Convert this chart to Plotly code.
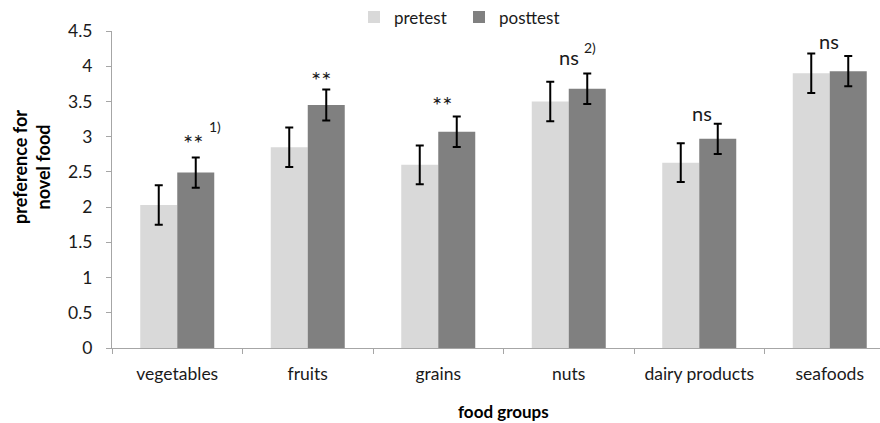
import plotly.graph_objects as go

categories = ["vegetables", "fruits", "grains", "nuts", "dairy products", "seafoods"]
pretest = [2.03, 2.85, 2.60, 3.50, 2.63, 3.90]
posttest = [2.49, 3.45, 3.07, 3.68, 2.97, 3.93]
pretest_err = [0.28, 0.28, 0.275, 0.28, 0.275, 0.28]
posttest_err = [0.215, 0.22, 0.215, 0.218, 0.215, 0.214]
sig_labels = ["**", "**", "**", "ns", "ns", "ns"]
sig_notes = ["1)", "", "", "2)", "", ""]

FONT = "Lato"
TXT = "#1a1a1a"
fig = go.Figure()
fig.add_trace(go.Bar(
    name="pretest", x=list(range(len(categories))), y=pretest,
    marker=dict(color="#d9d9d9", line=dict(width=0)),
    error_y=dict(type="data", array=pretest_err, color="black", thickness=2, width=4),
))
fig.add_trace(go.Bar(
    name="posttest", x=list(range(len(categories))), y=posttest,
    marker=dict(color="#808080", line=dict(width=0)),
    error_y=dict(type="data", array=posttest_err, color="black", thickness=2, width=4),
))

# annotation placement (x in category units, y in data units)
sig_x = [0.12, 1.105, 2.03, 3.0, 4.02, 4.995]
sig_y = [2.92, 3.81, 3.46, 4.13, 3.33, 4.36]
note_x = [0.29, None, None, 3.165, None, None]
note_y = [3.14, None, None, 4.27, None, None]

annotations = []
for i, lab in enumerate(sig_labels):
    annotations.append(dict(
        x=sig_x[i], y=sig_y[i], xref="x", yref="y", text=lab, showarrow=False,
        font=dict(family=FONT, size=24 if lab == "**" else 20, color=TXT),
        xanchor="center", yanchor="middle"))
    if sig_notes[i]:
        annotations.append(dict(
            x=note_x[i], y=note_y[i], xref="x", yref="y", text=sig_notes[i], showarrow=False,
            font=dict(family=FONT, size=14, color=TXT), xanchor="center", yanchor="middle"))

annotations.append(dict(
    x=(31 - 112) / 768, y=(348 - 167) / 317, xref="paper", yref="paper",
    text="<b>preference for<br>novel food</b>", textangle=-90, showarrow=False,
    font=dict(family=FONT, size=18, color="black"), xanchor="center", yanchor="middle"))
annotations.append(dict(
    x=(503.5 - 112) / 768, y=(348 - 411) / 317, xref="paper", yref="paper",
    text="<b>food groups</b>", showarrow=False,
    font=dict(family=FONT, size=17, color="black"), xanchor="center", yanchor="middle"))

fig.update_layout(
    width=880, height=423,
    margin=dict(l=112, r=0, t=31, b=75, autoexpand=False),
    paper_bgcolor="white", plot_bgcolor="white",
    barmode="group", bargap=0.433, bargroupgap=0,
    font=dict(family=FONT, size=17, color=TXT),
    legend=dict(orientation="h", x=(354 - 112) / 768, y=1.043, xanchor="left", yanchor="middle",
                font=dict(family=FONT, size=17, color=TXT), itemwidth=30,
                entrywidth=60, entrywidthmode="pixels",
                bgcolor="rgba(0,0,0,0)"),
    annotations=annotations,
    xaxis=dict(
        type="linear", range=[-0.5, -0.5 + 768 / 130.5],
        tickmode="array", tickvals=list(range(len(categories))), ticktext=categories,
        showline=True, linecolor="#a6a6a6", linewidth=1, ticks="", showgrid=False,
        zeroline=False, tickfont=dict(family=FONT, size=17.5, color=TXT),
        ticklabelstandoff=10,
    ),
    yaxis=dict(
        range=[0, 4.5], dtick=0.5, showline=True, linecolor="#a6a6a6",
        linewidth=1, ticks="outside", ticklen=5, tickcolor="#a6a6a6", showgrid=False,
        zeroline=False, tickfont=dict(family=FONT, size=17.5, color=TXT),
        ticklabelstandoff=10,
    ),
)

fig.update_xaxes(minor=dict(tickmode="array", tickvals=[i - 0.5 for i in range(len(categories) + 1)],
                            ticks="outside", ticklen=5, tickcolor="#a6a6a6", showgrid=False))

fig.write_html("out.html")
